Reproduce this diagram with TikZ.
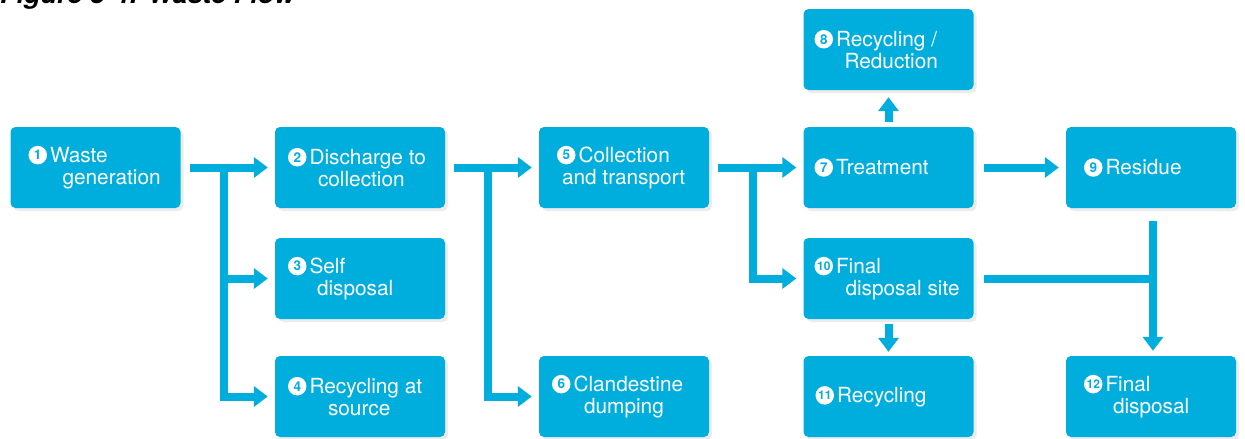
\documentclass[tikz,border=0pt]{standalone}
\usepackage{fontspec}
\setmainfont{TeX Gyre Heros}
\usetikzlibrary{arrows.meta,shadows,calc}
\definecolor{boxc}{RGB}{0,174,222}
\newcommand{\numc}[1]{\tikz[baseline=-7pt,x=1pt,y=1pt]\node[circle,fill=white,draw=none,inner sep=0pt,anchor=center,minimum size=18.5pt,text=boxc,font=\bfseries\fontsize{13.5}{13.5}\selectfont] at (0,0) {#1};}
\newcommand{\numcc}[1]{\tikz[baseline=-7pt,x=1pt,y=1pt]\node[circle,fill=white,draw=none,inner sep=0pt,anchor=center,minimum size=18.5pt,text=boxc,font=\bfseries\fontsize{12}{12}\selectfont] at (0,0) {\kern-0.5pt#1\kern-0.5pt};}
\begin{document}
\begin{tikzpicture}[x=1pt,y=-1pt,
  box/.style={fill=boxc,rounded corners=5pt,minimum width=170pt,minimum height=81pt,inner sep=0pt,
    drop shadow={opacity=0.15,shadow xshift=3pt,shadow yshift=-3pt}},
  lbl/.style={anchor=west,align=left,text=white,inner sep=0pt,font=\fontsize{20.8}{22.5}\selectfont},
  flow/.style={draw=boxc,line width=8pt},
  arr/.style={flow,-{Triangle[width=20pt,length=14pt]}}]
\useasboundingbox (0,0) rectangle (1245,439);
\clip (0,0) rectangle (1245,439);
\fill[white] (0,0) rectangle (1245,439);

\node[anchor=base west,inner sep=0pt,font=\bfseries\itshape\fontsize{27}{27}\selectfont] (title) at (0,4) {Figure 3-4: Waste Flow};

% boxes
\node[box] (b1) at (95.5,167.5) {};
\node[box] (b2) at (360,167.5) {};
\node[box] (b5) at (624,167.5) {};
\node[box] (b7) at (888.5,167.5) {};
\node[box] (b9) at (1151,167.5) {};
\node[box] (b8) at (888.5,49.5) {};
\node[box] (b3) at (360,278.5) {};
\node[box] (b4) at (360,396.5) {};
\node[box] (b6) at (624,396.5) {};
\node[box] (b10) at (888.5,278.5) {};
\node[box] (b11) at (888.5,396.5) {};
\node[box] (b12) at (1151,396.5) {};

% labels
\node[lbl] (t1) at ($(b1.west)+(18,0)$) {\numc{1}\hspace{3pt}Waste\\\hspace*{34pt}generation};
\node[lbl] (t2) at ($(b2.west)+(13,0)$) {\numc{2}\hspace{3pt}Discharge to\\\hspace*{30pt}collection};
\node[lbl] (t3) at ($(b3.west)+(13,0)$) {\numc{3}\hspace{3pt}Self\\\hspace*{29pt}disposal};
\node[lbl] (t4) at ($(b4.west)+(13,0)$) {\numc{4}\hspace{3pt}Recycling at\\\hspace*{40pt}source};
\node[lbl] (t5) at ($(b5.west)+(18,0)$) {\numc{5}\hspace{3pt}Collection\\\hspace*{5pt}and transport};
\node[lbl] (t6) at ($(b6.west)+(13,0)$) {\numc{6}\hspace{3pt}Clandestine\\\hspace*{32pt}dumping};
\node[lbl] (t7) at ($(b7.west)+(11,0)$) {\numc{7}\hspace{3pt}Treatment};
\node[lbl] (t8) at ($(b8.west)+(11,0)$) {\numc{8}\hspace{3pt}Recycling /\\\hspace*{30pt}Reduction};
\node[lbl] (t9) at ($(b9.west)+(18,0)$) {\numc{9}\hspace{3pt}Residue};
\node[lbl] (t10) at ($(b10.west)+(11,0)$) {\numcc{10}\hspace{3pt}Final\\\hspace*{31pt}disposal site};
\node[lbl] (t11) at ($(b11.west)+(12,0)$) {\numcc{11}\hspace{3pt}Recycling};
\node[lbl] (t12) at ($(b12.west)+(18,0)$) {\numcc{12}\hspace{3pt}Final\\\hspace*{29pt}disposal};

% connectors
\coordinate (j1) at ($(b1.east)+(43,-4)$);
\coordinate (j2) at ($(b2.east)+(43,-4)$);
\coordinate (j3) at ($(b5.east)+(44,-4)$);

\draw[arr] ($(b1.east)+(9,0)$) -- ($(b2.west)+(-7,0)$);
\draw[arr] (j1) |- ($(b4.west)+(-7,0)$);
\draw[arr] (j1 |- b3.west) -- ($(b3.west)+(-7,0)$);

\draw[arr] ($(b2.east)+(9,0)$) -- ($(b5.west)+(-7,0)$);
\draw[arr] (j2) |- ($(b6.west)+(-7,0)$);

\draw[arr] ($(b5.east)+(9,0)$) -- ($(b7.west)+(-7,0)$);
\draw[arr] (j3) |- ($(b10.west)+(-7,0)$);

\draw[arr] ($(b7.north)+(0,-5)$) -- ($(b8.south)+(0,7)$);
\draw[arr] ($(b7.east)+(10,0)$) -- ($(b9.west)+(-7,0)$);

\draw[arr] ($(b9.south)+(2,13)$) -- ($(b12.north)+(2,-5)$);
\draw[flow] ($(b10.east)+(10,0)$) -- ($(b9.south |- b10.east)+(2,0)$);

\draw[arr] ($(b10.south)+(0,5)$) -- ($(b11.north)+(0,-4)$);
\end{tikzpicture}
\end{document}
